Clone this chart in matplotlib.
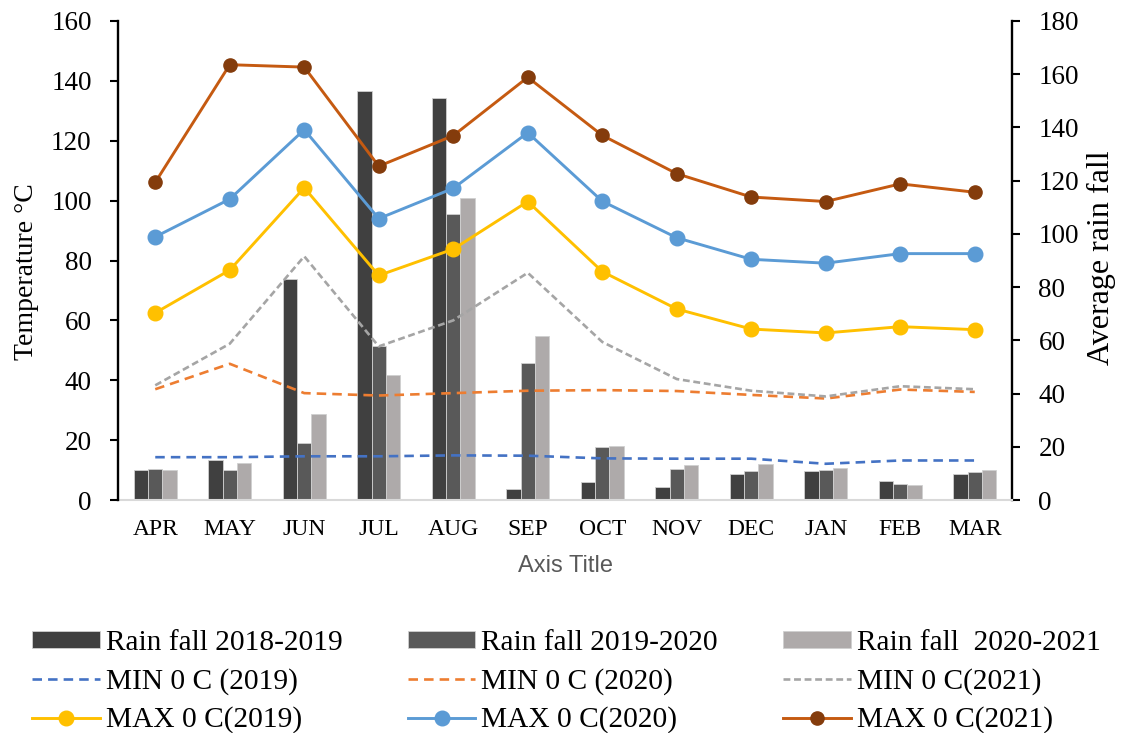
import matplotlib
matplotlib.use("Agg")
import matplotlib.pyplot as plt
import numpy as np

months = ["APR", "MAY", "JUN", "JUL", "AUG", "SEP", "OCT", "NOV", "DEC", "JAN", "FEB", "MAR"]

rain_2018_2019 = [11.4, 15.0, 83.0, 153.8, 151.0, 4.3, 6.6, 5.0, 9.7, 10.8, 7.2, 9.9]
rain_2019_2020 = [11.7, 11.4, 21.6, 57.7, 107.3, 51.5, 20.0, 11.5, 11.0, 11.1, 5.9, 10.5]
rain_2020_2021 = [11.4, 14.0, 32.4, 47.1, 113.4, 61.6, 20.4, 13.2, 13.4, 11.9, 5.8, 11.4]

min_2019 = [14.3, 14.3, 14.6, 14.6, 14.9, 14.8, 13.9, 13.8, 13.8, 12.1, 13.2, 13.2]
min_2020 = [37.0, 45.5, 35.7, 34.9, 35.7, 36.5, 36.7, 36.4, 35.1, 33.9, 36.9, 36.1]
min_2021 = [38.3, 52.2, 81.4, 51.3, 60.0, 75.9, 52.8, 40.4, 36.5, 34.6, 38.0, 37.0]

max_2019 = [62.5, 76.8, 104.3, 75.0, 83.8, 99.7, 76.3, 63.8, 57.1, 55.8, 57.9, 56.9]
max_2020 = [87.9, 100.5, 123.7, 94.0, 104.1, 122.7, 99.8, 87.6, 80.4, 79.1, 82.3, 82.3]
max_2021 = [106.1, 145.4, 144.6, 111.5, 121.7, 141.2, 121.8, 109.0, 101.2, 99.7, 105.6, 102.8]

serif = ["Liberation Serif", "DejaVu Serif"]
plt.rcParams["font.family"] = serif

fig = plt.figure(figsize=(11.25, 7.33), dpi=100)
L, R, B, T = 118 / 1125, 1012 / 1125, 1 - 500 / 733, 1 - 21 / 733
ax = fig.add_axes([L, B, R - L, T - B])
ax2 = ax.twinx()
ax.set_zorder(2)
ax2.set_zorder(1)
ax.patch.set_visible(False)

x = np.arange(len(months))
w = 0.193
bar_colors = ["#404040", "#595959", "#AEAAAA"]
bar_labels = ["Rain fall 2018-2019", "Rain fall 2019-2020", "Rain fall  2020-2021"]
bars = []
for i, (vals, c, lab) in enumerate(zip([rain_2018_2019, rain_2019_2020, rain_2020_2021], bar_colors, bar_labels)):
    b = ax2.bar(x + (i - 1) * w, vals, w, color=c, edgecolor="#D0D0D0", linewidth=0.6, label=lab)
    bars.append(b)

lw = 1.9
l_min19, = ax.plot(x, min_2019, color="#4472C4", lw=lw, dashes=(3.6, 2.3), label="MIN 0 C (2019)")
l_min20, = ax.plot(x, min_2020, color="#ED7D31", lw=lw, dashes=(3.6, 2.3), label="MIN 0 C (2020)")
l_min21, = ax.plot(x, min_2021, color="#A5A5A5", lw=lw, dashes=(2.6, 1.4), label="MIN 0 C(2021)")
l_max19, = ax.plot(x, max_2019, color="#FFC000", lw=2.1, marker="o", ms=10.5,
                   mfc="#FFC000", mec="#FFC000", label="MAX 0 C(2019)")
l_max20, = ax.plot(x, max_2020, color="#5B9BD5", lw=2.1, marker="o", ms=10.5,
                   mfc="#5B9BD5", mec="#5B9BD5", label="MAX 0 C(2020)")
l_max21, = ax.plot(x, max_2021, color="#C55A11", lw=2.1, marker="o", ms=9.5,
                   mfc="#843C0C", mec="#843C0C", label="MAX 0 C(2021)")

ax.set_xlim(-0.5, len(months) - 0.5)
ax.set_ylim(0, 160)
ax2.set_ylim(0, 180)
ax.set_yticks(np.arange(0, 161, 20))
ax2.set_yticks(np.arange(0, 181, 20))
ax.set_xticks(x)
ax.set_xticklabels(months)

for a in (ax, ax2):
    a.spines["top"].set_visible(False)
ax.spines["right"].set_visible(False)
ax2.spines["left"].set_visible(False)
ax2.spines["bottom"].set_visible(False)
ax.spines["left"].set_linewidth(1.7)
ax2.spines["right"].set_linewidth(1.7)
ax.spines["bottom"].set_color("#D9D9D9")
ax.spines["bottom"].set_linewidth(1.5)
ax.spines["bottom"].set_zorder(0.5)

ax.tick_params(axis="y", direction="out", length=6, width=1.5, labelsize=19.5, pad=13)
ax2.tick_params(axis="y", direction="out", length=6, width=1.5, labelsize=19.5, pad=13)
ax.tick_params(axis="x", length=0, labelsize=17, pad=14)

fig.text(27 / 1125, 1 - 272 / 733, "Temperature °C", rotation=90, ha="center", va="center",
         fontsize=20, family=serif)
fig.text(1101 / 1125, 1 - 258 / 733, "Average rain fall", rotation=90, ha="center", va="center",
         fontsize=23, family=serif)
fig.text(565 / 1125, 1 - 566 / 733, "Axis Title", ha="center", va="center", fontsize=17,
         color="#595959", family=["Liberation Sans", "DejaVu Sans"])

handles = [bars[0], l_min19, l_max19, bars[1], l_min20, l_max20, bars[2], l_min21, l_max21]
labels = [h.get_label() for h in handles]
fig.legend(handles, labels, loc="upper left", bbox_to_anchor=(32 / 1125, 1 - 630 / 733),
           ncol=3, frameon=False, prop={"family": serif, "size": 21.2},
           handlelength=2.3, handleheight=0.5, handletextpad=0.2, columnspacing=2.22,
           labelspacing=0.4, borderpad=0, borderaxespad=0)

fig.savefig("out.png", dpi=100)
